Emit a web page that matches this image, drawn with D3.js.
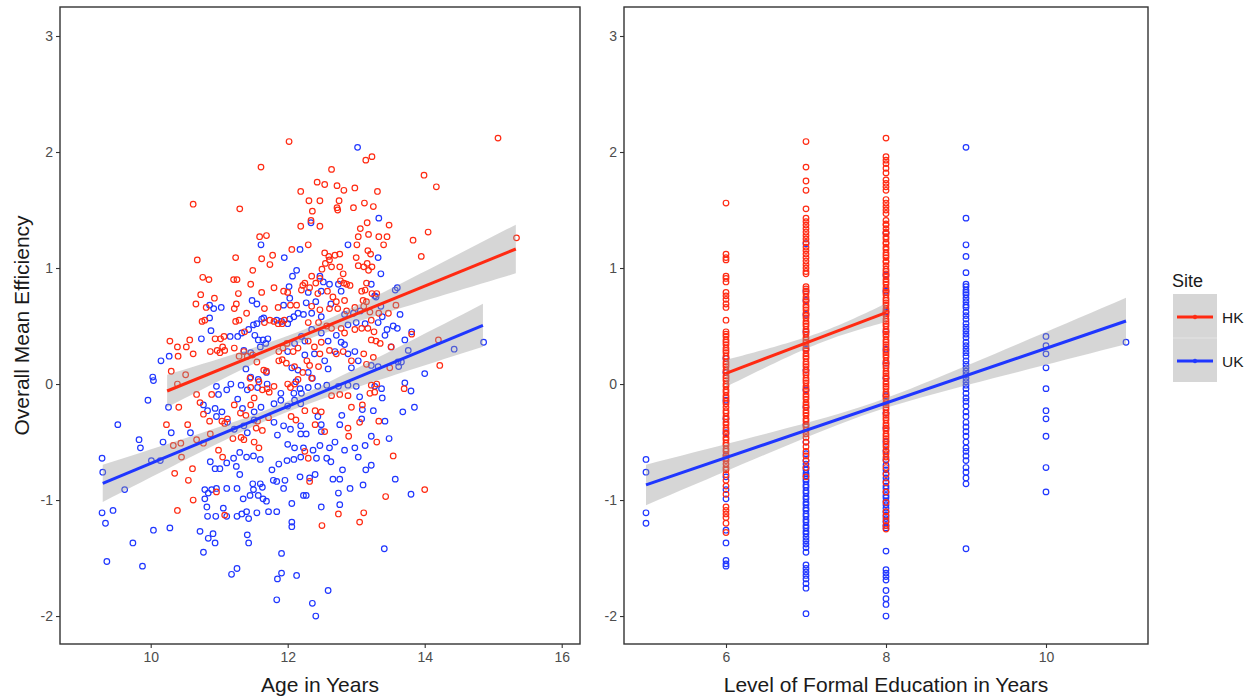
<!DOCTYPE html>
<html>
<head>
<meta charset="utf-8">
<script src="https://cdn.jsdelivr.net/npm/d3@7"></script>
<style>
  body { margin: 0; background: #fff; }
  svg  { display: block; font-family: "Liberation Sans", Arial, sans-serif; }
</style>
</head>
<body>
<svg id="chart" width="1257" height="700"></svg>
<script>
/* ── Data ──────────────────────────────────────────────────────── */
const sites = ["HK", "UK"];
const yTicks = [-2, -1, 0, 1, 2, 3];
const ageTicks = [10, 12, 14, 16];
const eduTicks = [6, 8, 10];

/* Left panel: [age, efficiency] */
const ageHK = [
  [12.02,2.09],[11.61,1.87],[12.19,1.66],[10.62,1.55],[11.30,1.51],[12.19,1.36],[11.59,1.27],[11.69,1.28],
  [10.68,1.07],[11.24,1.09],[11.62,1.08],[11.74,1.03],[11.78,1.11],[12.06,1.16],[11.49,0.98],[10.76,0.92],
  [10.85,0.90],[11.21,0.90],[11.26,0.90],[11.46,0.86],[11.80,0.83],[11.62,0.79],[11.94,0.80],[12.00,0.79],
  [12.20,0.81],[12.22,0.85],[10.73,0.77],[11.28,0.78],[10.66,0.69],[10.93,0.74],[10.81,0.66],[11.25,0.69],
  [11.22,0.65],[11.66,0.65],[11.86,0.66],[12.04,0.68],[12.13,0.68],[11.40,0.61],[10.75,0.54],[10.79,0.55],
  [11.24,0.54],[11.29,0.55],[11.74,0.55],[11.80,0.54],[11.86,0.52],[11.92,0.52],[11.95,0.55],[11.66,0.53],
  [10.94,0.39],[11.02,0.39],[11.07,0.41],[11.37,0.45],[10.28,0.37],[10.39,0.32],[10.57,0.38],[10.52,0.32],
  [10.62,0.26],[10.40,0.24],[10.87,0.28],[10.97,0.29],[11.05,0.32],[11.08,0.29],[11.01,0.27],[11.22,0.31],
  [11.29,0.24],[11.36,0.28],[11.41,0.24],[11.49,0.25],[11.55,0.19],[11.87,0.28],[11.93,0.31],[11.99,0.35],
  [12.08,0.28],[12.15,0.31],[10.30,0.11],[10.51,0.08],[11.65,0.12],[11.69,0.11],[11.87,0.20],[11.92,0.21],
  [11.98,0.18],
  [15.07,2.12],[13.14,1.93],[13.23,1.96],[12.64,1.85],[13.99,1.80],[14.17,1.70],[12.43,1.74],[12.54,1.72],
  [12.72,1.71],[12.82,1.67],[12.98,1.69],[13.31,1.66],[12.31,1.58],[12.47,1.58],[12.75,1.58],[12.72,1.52],
  [12.73,1.50],[12.96,1.52],[13.12,1.56],[13.25,1.53],[12.36,1.49],[12.34,1.41],[12.47,1.36],[13.16,1.39],
  [13.06,1.34],[13.18,1.29],[13.48,1.37],[13.33,1.27],[13.45,1.27],[13.40,1.20],[13.03,1.27],[13.01,1.20],
  [12.30,1.20],[13.17,1.15],[13.21,1.12],[13.83,1.24],[14.05,1.31],[13.95,1.10],[15.34,1.26],[12.54,1.13],
  [12.60,1.10],[12.69,1.11],[12.76,1.12],[12.55,1.04],[12.64,1.01],[12.61,1.07],[13.00,1.09],[13.03,1.02],
  [13.11,1.01],[13.16,1.04],[13.18,0.98],[13.23,1.01],[12.76,1.01],[12.81,0.95],[12.77,0.89],[12.50,0.99],
  [12.47,0.91],[12.35,0.93],[12.25,0.87],[12.32,0.83],[12.41,0.87],[12.82,0.87],[12.86,0.86],[12.91,0.85],
  [13.15,0.87],[13.13,0.81],[13.08,0.80],[13.23,0.78],[13.30,0.78],[12.44,0.78],[12.58,0.80],[12.66,0.75],
  [12.71,0.71],[12.83,0.72],[13.10,0.72],[13.15,0.71],[13.11,0.67],[13.58,0.68],[12.35,0.67],[12.47,0.64],
  [12.61,0.65],[12.73,0.65],[12.86,0.63],[12.98,0.66],[13.20,0.62],[13.33,0.61],[13.47,0.61],[13.22,0.55],
  [12.30,0.53],[12.45,0.53],[12.57,0.50],[12.64,0.48],[12.78,0.48],[12.83,0.44],[12.98,0.47],[13.08,0.48],
  [13.17,0.48],[13.26,0.45],[13.22,0.38],[13.29,0.37],[13.35,0.35],[13.81,0.43],[13.51,0.32],[14.20,0.38],
  [14.22,0.16],[12.30,0.37],[12.39,0.32],[12.49,0.36],[12.61,0.29],[12.71,0.26],[12.47,0.26],[12.81,0.28],
  [12.93,0.20],[13.11,0.26],[13.25,0.23],[13.15,0.17],[13.49,0.14],[12.32,0.16],[12.45,0.15],
  [10.39,0.00],[10.67,-0.09],[10.89,-0.09],[10.41,-0.20],[10.72,-0.16],[10.77,-0.26],[10.86,-0.32],[11.04,-0.32],
  [11.08,-0.34],[11.12,-0.30],[11.22,-0.18],[11.46,-0.18],[11.51,-0.12],[11.63,-0.05],[11.73,-0.07],[11.46,-0.03],
  [11.80,-0.02],[12.00,0.00],[12.04,-0.03],[12.10,0.00],[11.31,-0.25],[11.39,-0.27],[11.56,-0.32],[11.54,-0.38],
  [11.63,-0.40],[11.72,-0.29],[12.05,-0.28],[12.12,-0.31],[10.23,-0.35],[10.54,-0.35],[10.33,-0.53],[10.44,-0.51],
  [10.67,-0.48],[10.77,-0.51],[10.87,-0.43],[10.99,-0.57],[11.05,-0.63],[10.45,-0.63],[11.20,-0.47],[11.32,-0.46],
  [11.36,-0.48],[11.51,-0.50],[11.58,-0.55],[10.35,-0.77],[10.55,-0.83],[10.61,-0.73],[10.96,-0.93],[10.62,-1.00],
  [10.39,-1.09],[11.08,-1.13],
  [13.22,-0.01],[13.30,0.00],[13.27,-0.07],[13.70,-0.04],[12.64,-0.10],[12.76,-0.09],[12.88,-0.10],[13.20,-0.08],
  [12.93,-0.20],[13.09,-0.18],[13.33,-0.32],[13.05,-0.33],[12.88,-0.38],[12.89,-0.45],[13.30,-0.50],[13.54,-0.62],
  [12.25,-0.23],[12.40,-0.23],[12.49,-0.24],[12.54,-0.41],[12.40,-0.35],[12.25,-0.58],[12.30,-0.64],[12.32,-0.84],
  [13.43,-0.97],[14.00,-0.91],[12.74,-1.12],[13.11,-1.11],[13.05,-1.19],[12.50,-1.22],
  [11.45,0.05],[11.58,0.02],[11.70,-0.04],[12.10,0.15],[12.22,0.10],[12.35,0.05],[12.28,0.20],[12.15,0.04]
];

const ageUK = [
  [11.61,1.20],[11.95,1.09],[12.18,1.16],[12.13,0.98],[12.07,0.93],[12.02,0.84],[10.86,0.68],[10.92,0.65],
  [11.03,0.66],[11.48,0.72],[11.55,0.69],[11.94,0.68],[12.03,0.74],[12.15,0.61],[12.23,0.60],[12.09,0.58],
  [10.86,0.57],[11.55,0.52],[11.50,0.51],[11.62,0.56],[11.65,0.57],[11.84,0.55],[11.91,0.54],[12.00,0.52],
  [12.03,0.56],[10.74,0.39],[10.88,0.46],[11.16,0.41],[11.27,0.41],[11.33,0.44],[11.43,0.47],[11.52,0.42],
  [11.57,0.38],[11.64,0.38],[11.71,0.39],[10.15,0.20],[10.27,0.24],[11.36,0.29],[11.46,0.27],[11.60,0.32],
  [11.68,0.35],[12.00,0.28],[12.10,0.35],[12.20,0.41],[10.03,0.06],[11.39,0.13],[11.46,0.06],[11.57,0.04],
  [11.69,0.10],[12.06,0.14],[12.15,0.12],
  [13.02,2.04],[12.34,1.39],[13.33,1.43],[12.88,1.20],[13.32,1.09],[13.36,0.95],[12.47,0.93],[12.52,0.88],
  [12.61,0.86],[12.74,0.86],[12.78,0.80],[13.22,0.86],[13.29,0.75],[13.60,0.83],[12.30,0.79],[12.49,0.80],
  [12.63,0.69],[12.41,0.71],[13.57,0.81],[12.27,0.70],[12.35,0.61],[12.49,0.58],[12.83,0.60],[12.96,0.61],
  [13.06,0.63],[13.36,0.67],[13.27,0.76],[13.38,0.58],[13.64,0.60],[13.54,0.50],[13.45,0.47],[13.60,0.48],
  [12.35,0.47],[12.49,0.44],[12.59,0.37],[12.71,0.42],[12.78,0.36],[12.88,0.51],[13.00,0.53],[13.13,0.52],
  [13.32,0.53],[13.42,0.42],[13.71,0.38],[13.81,0.45],[13.51,0.32],[13.76,0.29],[13.61,0.19],[13.66,0.19],
  [14.43,0.30],[14.86,0.36],[14.00,0.09],[13.62,0.15],[12.25,0.37],[12.39,0.26],[12.54,0.20],[12.69,0.28],
  [12.83,0.34],[12.88,0.26],[12.98,0.28],[13.03,0.20],[13.22,0.16],[13.32,0.15],[12.93,0.14],[12.59,0.13],
  [10.04,0.03],[10.96,-0.02],[10.99,-0.09],[11.11,-0.05],[9.96,-0.14],[10.26,-0.20],[10.77,-0.18],[10.83,-0.23],
  [10.94,-0.21],[11.04,-0.24],[10.96,-0.28],[11.27,-0.13],[11.34,-0.21],[11.51,-0.24],[11.61,-0.20],[11.80,-0.17],
  [11.90,-0.14],[12.00,-0.19],[12.10,-0.14],[12.19,-0.17],[11.17,0.00],[11.32,-0.01],[11.41,-0.05],[11.56,-0.03],
  [11.70,0.00],[11.90,-0.08],[12.09,-0.08],[12.18,-0.04],[11.12,-0.33],[11.22,-0.39],[11.36,-0.36],[11.41,-0.42],
  [11.51,-0.31],[11.80,-0.33],[11.94,-0.36],[12.04,-0.39],[12.19,-0.36],[9.52,-0.35],[10.30,-0.42],[10.58,-0.42],
  [9.83,-0.48],[9.85,-0.55],[10.18,-0.50],[10.01,-0.66],[10.14,-0.66],[10.87,-0.67],[10.94,-0.73],[11.01,-0.73],
  [11.11,-0.68],[11.21,-0.64],[11.25,-0.71],[11.30,-0.78],[11.30,-0.59],[11.40,-0.63],[11.50,-0.62],[11.60,-0.65],
  [11.77,-0.74],[11.87,-0.69],[11.99,-0.66],[12.09,-0.65],[12.19,-0.63],[12.23,-0.55],[11.85,-0.44],[12.00,-0.52],
  [12.10,-0.55],[12.19,-0.43],[9.29,-0.64],[9.30,-0.76],[9.62,-0.91],[10.79,-0.91],[10.84,-0.94],[10.79,-0.99],
  [10.89,-0.91],[10.96,-0.90],[11.11,-0.90],[11.26,-0.90],[11.35,-0.99],[11.45,-0.96],[11.50,-0.91],[11.57,-0.96],
  [11.64,-0.99],[11.69,-1.01],[11.79,-0.83],[11.84,-0.84],[11.96,-0.83],[12.18,-0.80],[12.23,-0.96],[11.49,-0.86],
  [11.60,-0.86],[11.63,-0.89],[11.94,-0.90],[12.06,-1.03],[9.29,-1.11],[9.45,-1.09],[9.34,-1.20],[10.82,-1.06],
  [10.83,-1.14],[10.95,-1.14],[11.06,-1.07],[11.11,-1.14],[11.26,-1.14],[11.33,-1.12],[11.40,-1.10],[11.43,-1.16],
  [11.55,-1.11],[11.72,-1.10],[11.84,-1.10],[12.06,-1.19],[12.06,-1.23],[10.04,-1.26],[10.28,-1.24],[10.72,-1.27],
  [10.84,-1.33],[10.91,-1.29],[10.94,-1.37],[10.77,-1.45],[11.41,-1.30],[11.43,-1.37],[9.74,-1.37],[9.36,-1.53],
  [9.88,-1.57],[11.91,-1.46],[11.18,-1.64],[11.26,-1.59],[11.91,-1.63],[11.85,-1.68],[12.13,-1.65],[11.84,-1.86],
  [12.30,-0.03],[12.44,-0.02],[12.57,-0.01],[12.74,-0.02],[12.88,-0.01],[13.00,-0.02],[13.27,-0.02],[13.37,-0.04],
  [13.71,0.01],[13.80,-0.06],[13.38,-0.12],[13.05,-0.11],[13.85,-0.20],[13.68,-0.24],[13.09,-0.22],[13.25,-0.23],
  [12.79,-0.27],[13.42,-0.32],[12.76,-0.35],[13.08,-0.30],[12.44,-0.28],[12.49,-0.35],[12.49,-0.41],[12.27,-0.43],
  [12.37,-0.57],[12.47,-0.53],[12.61,-0.55],[12.69,-0.50],[12.83,-0.57],[12.98,-0.55],[13.13,-0.53],[13.22,-0.45],
  [13.48,-0.47],[13.03,-0.63],[12.42,-0.64],[12.57,-0.64],[12.63,-0.67],[12.80,-0.74],[13.14,-0.74],[13.22,-0.70],
  [13.57,-0.82],[12.40,-0.78],[12.32,-0.81],[12.66,-0.82],[12.76,-0.82],[12.91,-0.90],[13.10,-0.87],[12.74,-0.94],
  [12.27,-0.96],[13.80,-0.95],[12.49,-1.06],[12.76,-1.04],[13.41,-1.42],[12.59,-1.78],[12.36,-1.89],[12.41,-2.00],
  [12.25,0.25],[12.30,0.10],[12.12,0.02],[12.20,-0.08],[12.36,0.05]
];

/* Right panel: efficiency values stacked at each education level */
const hkEdu6 = [1.56,1.12,1.09,1.07,0.93,0.91,0.88,0.79,0.76,0.73,0.69,0.66,0.55,0.45,0.43,0.41,0.38,0.36,0.34,
  0.31,0.29,0.27,0.24,0.22,0.19,0.17,0.15,0.12,0.10,0.07,0.05,0.03,0.00,-0.02,-0.05,-0.07,-0.10,-0.12,-0.15,
  -0.17,-0.20,-0.23,-0.25,-0.28,-0.30,-0.33,-0.35,-0.38,-0.40,-0.43,-0.46,-0.48,-0.51,-0.53,-0.56,-0.58,-0.61,
  -0.64,-0.66,-0.69,-0.72,-0.74,-0.78,-0.83,-0.88,-0.95,-1.06,-1.09,-1.12,-1.15,-1.20,-1.28];
const hkEdu7 = [2.09,1.87,1.75,1.67,1.51,1.43,1.40,1.37,1.34,1.31,1.28,1.25,1.22,1.18,1.15,1.12,1.09,1.06,1.03,
  1.00,0.97,0.95,0.84,0.82,0.80,0.78,0.75,0.73,0.71,0.68,0.66,0.64,0.61,0.59,0.57,0.54,0.52,0.50,0.47,0.45,
  0.43,0.40,0.38,0.36,0.33,0.31,0.29,0.26,0.24,0.22,0.19,0.17,0.15,0.12,0.10,0.08,0.05,0.03,0.01,-0.02,-0.04,
  -0.06,-0.09,-0.11,-0.13,-0.16,-0.18,-0.20,-0.23,-0.25,-0.27,-0.30,-0.32,-0.35,-0.37,-0.40,-0.43,-0.46,-0.50,
  -0.54,-0.58,-0.62,-0.66,-0.72,-0.80];
const hkEdu8 = [2.12,1.96,1.93,1.90,1.86,1.82,1.76,1.73,1.70,1.67,1.59,1.56,1.53,1.50,1.47,1.41,1.38,1.37,1.34,
  1.31,1.30,1.27,1.25,1.22,1.21,1.18,1.16,1.13,1.11,1.09,1.06,1.05,1.02,0.99,0.97,0.95,0.93,0.90,0.88,0.86,
  0.83,0.81,0.79,0.77,0.74,0.72,0.70,0.68,0.65,0.63,0.61,0.59,0.56,0.54,0.52,0.50,0.47,0.45,0.43,0.41,0.38,
  0.36,0.34,0.32,0.29,0.27,0.25,0.23,0.20,0.18,0.16,0.14,0.11,0.09,0.07,0.05,0.02,0.00,-0.02,-0.04,-0.07,
  -0.09,-0.11,-0.13,-0.16,-0.18,-0.20,-0.22,-0.25,-0.27,-0.29,-0.31,-0.34,-0.36,-0.38,-0.40,-0.43,-0.45,
  -0.47,-0.49,-0.52,-0.54,-0.57,-0.60,-0.63,-0.66,-0.72,-0.78,-0.85,-0.93,-1.02,-1.10,-1.14,-1.18,-1.22,-1.25];

const ukEdu5 = [-0.65,-0.76,-1.11,-1.20];
const ukEdu6 = [0.22,0.10,-0.14,-0.30,-0.42,-0.62,-0.80,-0.91,-0.99,-1.26,-1.37,-1.52,-1.55,-1.57];
const ukEdu7 = [1.21,0.80,0.72,0.60,0.45,0.30,0.12,-0.05,-0.20,-0.35,-0.50,-0.60,-0.66,-0.69,-0.72,-0.74,
  -0.77,-0.79,-0.82,-0.84,-0.87,-0.89,-0.92,-0.94,-0.97,-0.99,-1.02,-1.04,-1.07,-1.09,-1.12,-1.14,-1.17,-1.19,
  -1.22,-1.24,-1.27,-1.29,-1.32,-1.35,-1.38,-1.41,-1.45,-1.56,-1.59,-1.62,-1.65,-1.68,-1.72,-1.76,-1.98];
const ukEdu8 = [1.30,0.94,0.80,0.62,0.45,0.30,0.18,0.05,-0.10,-0.25,-0.38,-0.50,-0.58,-0.65,-0.70,-0.74,
  -0.77,-0.81,-0.84,-0.88,-0.90,-0.93,-0.96,-0.98,-1.01,-1.04,-1.07,-1.10,-1.13,-1.16,-1.19,-1.22,-1.24,
  -1.44,-1.60,-1.63,-1.66,-1.69,-1.78,-1.85,-1.90,-2.00];
const ukEdu9 = [2.04,1.43,1.20,1.10,0.96,0.86,0.84,0.81,0.79,0.77,0.74,0.71,0.68,0.66,0.62,0.59,0.56,0.52,
  0.49,0.46,0.43,0.40,0.36,0.33,0.30,0.27,0.24,0.20,0.17,0.14,0.11,0.08,0.05,0.02,-0.01,-0.04,-0.08,-0.12,
  -0.15,-0.19,-0.24,-0.28,-0.33,-0.37,-0.41,-0.45,-0.50,-0.55,-0.58,-0.62,-0.66,-0.72,-0.76,-0.81,-0.86,-1.42];
const ukEdu10 = [0.41,0.33,0.26,0.14,-0.04,-0.23,-0.30,-0.45,-0.72,-0.93];
const ukEdu11 = [0.36];

/* Fitted lines: [x0, y0, x1, y1] and band half-widths [at x0, narrowest, at x1] */
const ageFitHK  = [10.24, -0.06, 15.33, 1.164];
const ageBandHK = [0.14, 0.05, 0.21];
const ageFitUK  = [9.30, -0.856, 14.85, 0.506];
const ageBandUK = [0.16, 0.045, 0.185];
const eduFitHK  = [6, 0.092, 8, 0.615];
const eduBandHK = [0.116, 0.045, 0.08];
const eduFitUK  = [5, -0.87, 11, 0.543];
const eduBandUK = [0.175, 0.04, 0.2];

/* ── Layout / style ────────────────────────────────────────────── */
const COLOR = { HK: "#ff2a12", UK: "#1f36ff" };
const TOP = 7, BOTTOM = 644;
const Y_DOMAIN = [-2.241, 3.25];
const FONT_TICK = 14, FONT_TITLE = 21;

const svg = d3.select("#chart");

function stack(level, values) {
  return values.map(v => [level, v]);
}

/* Regression ribbon: hyperbolic half-width through the three read widths */
function bandPoints(fit, band) {
  const [x0, y0, x1, y1] = fit;
  const [h0, m, h1] = band;
  const r = Math.sqrt((h0 * h0 - m * m) / (h1 * h1 - m * m));
  const xc = (x0 + r * x1) / (1 + r);
  const k = (h1 * h1 - m * m) / ((x1 - xc) * (x1 - xc));
  const slope = (y1 - y0) / (x1 - x0);
  return d3.range(0, 41).map(i => {
    const x = x0 + (x1 - x0) * i / 40;
    const hw = Math.sqrt(m * m + k * (x - xc) * (x - xc));
    const yv = y0 + slope * (x - x0);
    return { x, lo: yv - hw, hi: yv + hw };
  });
}

function drawPanel(opt) {
  const x = d3.scaleLinear().domain(opt.xDomain).range([opt.left, opt.right]);
  const y = d3.scaleLinear().domain(Y_DOMAIN).range([BOTTOM, TOP]);
  const g = svg.append("g");

  /* points: UK first, HK on top */
  ["UK", "HK"].forEach(site => {
    g.append("g").selectAll("circle")
      .data(opt.points[site])
      .join("circle")
        .attr("cx", d => x(d[0]))
        .attr("cy", d => y(d[1]))
        .attr("r", 2.8)
        .attr("fill", "none")
        .attr("stroke", COLOR[site])
        .attr("stroke-width", 1.2);
  });

  /* smooths: ribbon then line, per group */
  const area = d3.area().x(d => x(d.x)).y0(d => y(d.lo)).y1(d => y(d.hi));
  sites.forEach(site => {
    const f = opt.fits[site];
    g.append("path")
      .attr("d", area(bandPoints(f.fit, f.band)))
      .attr("fill", "#999999")
      .attr("fill-opacity", 0.4);
    g.append("line")
      .attr("x1", x(f.fit[0])).attr("y1", y(f.fit[1]))
      .attr("x2", x(f.fit[2])).attr("y2", y(f.fit[3]))
      .attr("stroke", COLOR[site])
      .attr("stroke-width", 3);
  });

  /* panel frame */
  g.append("rect")
    .attr("x", opt.left).attr("y", TOP)
    .attr("width", opt.right - opt.left).attr("height", BOTTOM - TOP)
    .attr("fill", "none").attr("stroke", "#333").attr("stroke-width", 1.4);

  /* axes */
  const styleAxis = a => {
    a.select(".domain").remove();
    a.selectAll(".tick line").attr("stroke", "#333").attr("stroke-width", 1.1);
    a.selectAll(".tick text").attr("fill", "#4d4d4d")
      .style("font-size", FONT_TICK + "px")
      .style("font-family", "'Liberation Sans', Arial, sans-serif");
  };
  g.append("g")
    .attr("transform", `translate(${opt.left},0)`)
    .call(d3.axisLeft(y).tickValues(yTicks).tickSize(4).tickPadding(3).tickFormat(d => String(d)))
    .call(styleAxis);
  g.append("g")
    .attr("transform", `translate(0,${BOTTOM})`)
    .call(d3.axisBottom(x).tickValues(opt.xTicks).tickSize(4).tickPadding(4).tickFormat(d => String(d)))
    .call(styleAxis);

  /* x title */
  g.append("text")
    .attr("x", (opt.left + opt.right) / 2)
    .attr("y", 692)
    .attr("text-anchor", "middle")
    .attr("fill", "#1a1a1a")
    .style("font-size", FONT_TITLE + "px")
    .text(opt.xTitle);
}

drawPanel({
  left: 60, right: 580,
  xDomain: [8.676, 16.267],
  xTicks: ageTicks,
  xTitle: "Age in Years",
  points: { HK: ageHK, UK: ageUK },
  fits: { HK: { fit: ageFitHK, band: ageBandHK }, UK: { fit: ageFitUK, band: ageBandUK } }
});

drawPanel({
  left: 624, right: 1148,
  xDomain: [4.725, 11.275],
  xTicks: eduTicks,
  xTitle: "Level of Formal Education in Years",
  points: {
    HK: [].concat(stack(6, hkEdu6), stack(7, hkEdu7), stack(8, hkEdu8)),
    UK: [].concat(stack(5, ukEdu5), stack(6, ukEdu6), stack(7, ukEdu7), stack(8, ukEdu8),
                  stack(9, ukEdu9), stack(10, ukEdu10), stack(11, ukEdu11))
  },
  fits: { HK: { fit: eduFitHK, band: eduBandHK }, UK: { fit: eduFitUK, band: eduBandUK } }
});

/* y title */
svg.append("text")
  .attr("transform", `translate(29,${(TOP + BOTTOM) / 2}) rotate(-90)`)
  .attr("text-anchor", "middle")
  .attr("fill", "#1a1a1a")
  .style("font-size", FONT_TITLE + "px")
  .text("Overall Mean Efficiency");

/* ── Legend ────────────────────────────────────────────────────── */
const legend = svg.append("g").attr("transform", "translate(1173,0)");
legend.append("text")
  .attr("x", -1).attr("y", 287)
  .attr("fill", "#1a1a1a")
  .style("font-size", "18px")
  .text("Site");
sites.forEach((site, i) => {
  const ky = 294 + i * 44;
  legend.append("rect")
    .attr("x", 0).attr("y", ky).attr("width", 44).attr("height", 44)
    .attr("fill", "#d6d6d6");
  legend.append("line")
    .attr("x1", 4).attr("x2", 40).attr("y1", ky + 23).attr("y2", ky + 23)
    .attr("stroke", COLOR[site]).attr("stroke-width", 3);
  legend.append("circle")
    .attr("cx", 22).attr("cy", ky + 23).attr("r", 1.8)
    .attr("fill", "none").attr("stroke", COLOR[site]).attr("stroke-width", 1);
  legend.append("text")
    .attr("x", 49).attr("y", ky + 29)
    .attr("fill", "#1a1a1a")
    .style("font-size", "15.5px")
    .text(site);
});
legend.append("line")
  .attr("x1", 0).attr("x2", 44).attr("y1", 338).attr("y2", 338)
  .attr("stroke", "#e4e4e4").attr("stroke-width", 1);
</script>
</body>
</html>
